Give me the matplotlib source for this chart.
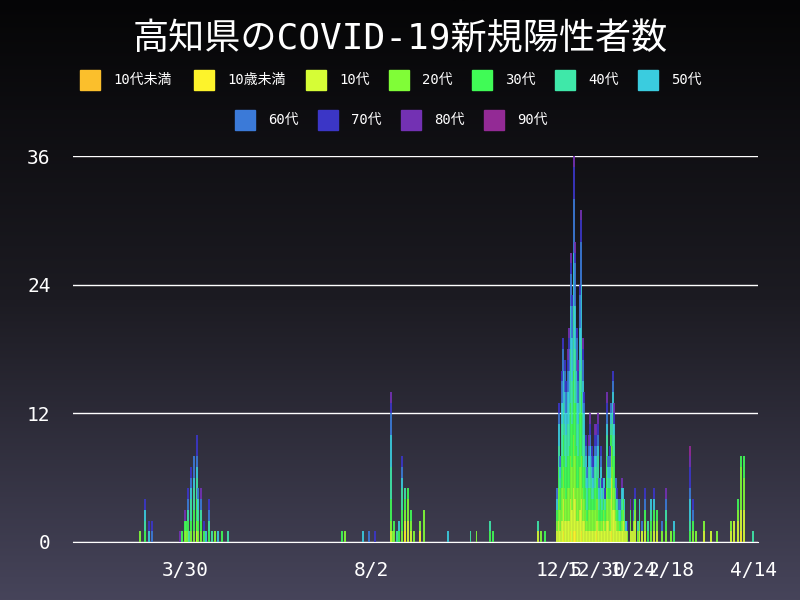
import numpy as np
import pandas as pd
import matplotlib
matplotlib.use('Agg')
import matplotlib.pyplot as plt
import matplotlib.dates as mdates
from matplotlib.patches import Rectangle
from matplotlib.colors import LinearSegmentedColormap

plt.rcParams['font.family'] = ['DejaVu Sans Mono', 'Noto Sans CJK JP']

groups = ['10代未満', '10歳未満', '10代', '20代', '30代', '40代', '50代',
          '60代', '70代', '80代', '90代']
colors = ['#fbbf2c', '#fdf32b', '#d6fd36', '#80fd37', '#40fb56', '#3fe8a9',
          '#3accdf', '#3b7ad8', '#3b36c6', '#7331b3', '#932a95']

# per-day case counts by age group (one char per group, order as above)
dates = ['2020-02-29', '2020-03-03', '2020-03-06', '2020-03-08',
         '2020-03-27', '2020-03-28', '2020-03-30', '2020-03-31', '2020-04-01', '2020-04-02',
         '2020-04-03', '2020-04-05', '2020-04-07', '2020-04-08', '2020-04-10', '2020-04-12',
         '2020-04-13', '2020-04-15', '2020-04-17', '2020-04-19', '2020-04-21', '2020-04-24',
         '2020-04-28',
         '2020-07-13', '2020-07-15', '2020-07-27', '2020-07-31', '2020-08-04',
         '2020-08-15', '2020-08-16', '2020-08-17', '2020-08-19', '2020-08-20', '2020-08-22',
         '2020-08-24', '2020-08-26', '2020-08-28', '2020-08-30', '2020-09-03', '2020-09-06',
         '2020-09-22', '2020-10-07', '2020-10-11', '2020-10-20', '2020-10-22',
         '2020-11-21', '2020-11-23', '2020-11-26',
         '2020-12-04', '2020-12-05', '2020-12-06', '2020-12-07', '2020-12-08', '2020-12-09',
         '2020-12-10', '2020-12-11', '2020-12-12', '2020-12-13', '2020-12-14', '2020-12-15',
         '2020-12-16', '2020-12-17', '2020-12-18', '2020-12-19', '2020-12-20', '2020-12-21',
         '2020-12-22', '2020-12-23', '2020-12-24', '2020-12-25', '2020-12-26', '2020-12-27',
         '2020-12-28', '2020-12-29', '2020-12-30', '2020-12-31',
         '2021-01-01', '2021-01-02', '2021-01-03', '2021-01-04', '2021-01-05', '2021-01-06',
         '2021-01-07', '2021-01-08', '2021-01-09', '2021-01-10', '2021-01-11', '2021-01-12',
         '2021-01-13', '2021-01-14', '2021-01-15', '2021-01-16', '2021-01-17', '2021-01-18',
         '2021-01-19', '2021-01-20', '2021-01-22', '2021-01-23', '2021-01-24', '2021-01-25',
         '2021-01-27', '2021-01-28', '2021-01-30', '2021-02-01', '2021-02-03', '2021-02-05',
         '2021-02-07', '2021-02-09', '2021-02-12', '2021-02-15', '2021-02-18', '2021-02-20',
         '2021-03-03', '2021-03-05', '2021-03-07', '2021-03-12', '2021-03-17', '2021-03-21',
         '2021-03-30', '2021-04-01', '2021-04-04', '2021-04-06', '2021-04-08', '2021-04-14']
cases = ['00010000000', '00001110100', '00000010100', '00000001100',
         '00000000010', '00001000000', '00011000010', '00011000000', '00011101100', '00000100000',
         '00011211100', '00012212000', '00112211200', '00011111000', '00011101010', '00001000100',
         '00000010000', '00001101100', '00000100000', '00010000000', '00000010000', '00001000000',
         '00000100000',
         '00001000000', '00010000000', '00000010000', '00000001000', '00000000100',
         '00112332110', '00010000000', '00011000000', '00000100000', '00001010000', '00012211100',
         '01111100000', '00221000000', '00111000000', '00010000000', '01010000000', '00030000000',
         '00000010000', '00000100000', '00010000000', '00001100000', '00001000000',
         '00100100000', '00010000000', '00001000000',
         '00111011000', '00232221100', '00122111000', '00233322100', '01333332100', '00233332100',
         '00223322100', '00233332110', '00234432110', '01345543110', '00344443100', '01456655310',
         '01345544110', '00234433100', '00233322110', '00345443100', '01346554210', '00233432110',
         '00223321100', '00122211100', '00111211000', '00122211010', '00122221110', '00121211100',
         '00121111100', '00122211110', '01122111110', '00222211110',
         '00111111000', '00112211100', '00111110100', '00211110000', '00111100100', '00233211110',
         '00221111000', '00131111100', '01531111000', '00342321100', '00323210110', '00211101000',
         '00111100100', '00110101000', '00101011000', '00111110010', '00211010000', '00110110000',
         '00100010000', '00010000100', '00111000010', '00100000000', '00110001100', '00211000100',
         '00010100000', '00110110000', '00100001000', '00111001100', '00001100000', '00011110000',
         '00111010100', '00111000000', '00010001000', '00011101010', '00010000000', '00001010000',
         '00001121211', '00011001100', '00010000000', '00110000000', '00100000000', '00010000000',
         '00110000000', '00200000000', '00211000000', '01241000000', '00332000000', '00000100000']

x = mdates.date2num(pd.to_datetime(dates))
counts = np.array([[int(c, 36) for c in s] for s in cases])

fig = plt.figure(figsize=(8, 6), dpi=100)
bg = fig.add_axes([0, 0, 1, 1], zorder=-10)
grad = np.linspace(0, 1, 256).reshape(-1, 1)
cm = LinearSegmentedColormap.from_list('bg', ['#050506', '#1c1b22', '#46445a'])
bg.imshow(grad, aspect='auto', cmap=cm, extent=[0, 1, 0, 1])
bg.axis('off')

ax = fig.add_axes([0.091, 0.0967, 0.856, 0.643])
ax.patch.set_alpha(0)
bottom = np.zeros(len(x))
for i in range(len(groups)):
    ax.bar(x, counts[:, i], bottom=bottom, width=1.3, color=colors[i],
           linewidth=0, alpha=0.9, zorder=3)
    bottom += counts[:, i]

ax.set_xlim(mdates.date2num(pd.Timestamp('2020-01-15')), mdates.date2num(pd.Timestamp('2021-04-17')))
ax.set_ylim(0, 36)
ax.set_yticks([0, 12, 24, 36])
ax.yaxis.grid(True, color='white', linewidth=1)
ax.set_axisbelow(True)
ticks = ['2020-03-30', '2020-08-02', '2020-12-05', '2020-12-30', '2021-01-24', '2021-02-18', '2021-04-14']
ax.set_xticks(mdates.date2num(pd.to_datetime(ticks)))
ax.set_xticklabels(['3/30', '8/2', '12/5', '12/30', '1/24', '2/18', '4/14'])
ax.tick_params(colors='white', labelsize=14, length=0, pad=14)
ax.tick_params(axis='y', pad=16)
for s in ax.spines.values():
    s.set_visible(False)
ax.spines['bottom'].set_visible(True)
ax.spines['bottom'].set_color('white')

fig.text(0.5, 0.935, '高知県のCOVID-19新規陽性者数', color='white', fontsize=26,
         ha='center', va='center')

row1 = [80, 194, 306, 389, 472, 555, 638]
row2 = [235, 318, 401, 484]
pos = [(px, 80) for px in row1] + [(px, 120) for px in row2]
for (px, py), g, c in zip(pos, groups, colors):
    fig.patches.append(Rectangle((px / 800, 1 - (py + 10) / 600), 20 / 800, 20 / 600,
                                 transform=fig.transFigure, color=c))
    fig.text((px + 33) / 800, 1 - py / 600, g, color='white', fontsize=10, va='center')

fig.savefig('out.png', dpi=100)
